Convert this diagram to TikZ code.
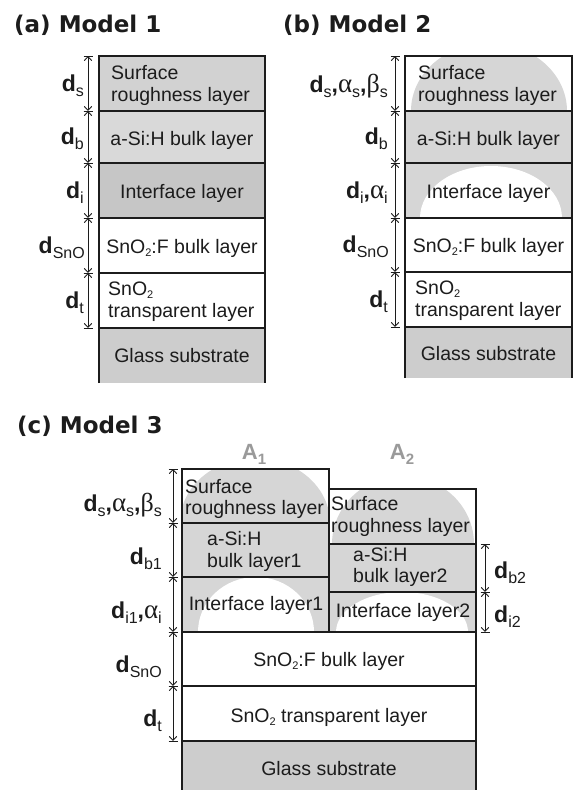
\documentclass[tikz,border=0pt]{standalone}
\usepackage{fontspec}
\setmainfont{Liberation Sans}
\newfontfamily\titlefont{DejaVu Sans}
\newfontfamily\grkfont{Liberation Serif}
\usetikzlibrary{arrows.meta}

\definecolor{ink}{HTML}{1C1C1C}
\definecolor{gSurf}{HTML}{D2D2D2}
\definecolor{gBulk}{HTML}{D9D9D9}
\definecolor{gIntf}{HTML}{C6C6C6}
\definecolor{gGlass}{HTML}{CDCDCD}
\definecolor{gDome}{HTML}{D6D6D6}
\definecolor{gLetter}{HTML}{9A9A9A}

% label pieces: bold d, greek letters, subscripts
\newcommand\lsub[1]{\raisebox{-5pt}{\fontsize{16}{16}\selectfont #1}}
\newcommand\lD[1]{{\fontsize{23}{23}\selectfont\bfseries d}\lsub{#1}}
\newcommand\lAl[1]{{\grkfont\fontsize{27}{27}\selectfont α}\lsub{#1}}
\newcommand\lBe[1]{{\grkfont\fontsize{26}{26}\selectfont β}\lsub{#1}}
\newcommand\lCo{{\fontsize{23}{23}\selectfont\bfseries ,}}
\newcommand\stwo{\raisebox{-3pt}{\fontsize{11}{11}\selectfont 2}}

% dimension arrow between two levels, with end ticks
\newcommand\dimarrow[4]{%
  \coordinate (#1t) at (#2,#3);
  \coordinate (#1b) at (#2,#4);
  \draw[dimline] (#1t) -- (#1b);
  \draw[dimtick] ([xshift=-4.5pt]#1t) -- ([xshift=4.5pt]#1t);
  \draw[dimtick] ([xshift=-4.5pt]#1b) -- ([xshift=4.5pt]#1b);
}

\tikzset{
  outline/.style={draw=ink, line width=1.7pt},
  layerline/.style={draw=ink, line width=1.4pt},
  dimline/.style={draw=ink, line width=0.9pt,
    {Straight Barb[length=4pt,width=7.5pt]}-{Straight Barb[length=4pt,width=7.5pt]}},
  dimtick/.style={draw=ink, line width=0.9pt},
  layertext/.style={inner sep=0pt, text=ink, font=\fontsize{19.5}{21.5}\selectfont, align=left},
  dimlabel/.style={inner sep=0pt, text=ink},
  title/.style={inner sep=0pt, text=ink, font=\titlefont\bfseries\fontsize{23}{23}\selectfont, anchor=base west},
  colname/.style={inner sep=0pt, text=gLetter, font=\bfseries\fontsize{22}{22}\selectfont},
}

\begin{document}
\begin{tikzpicture}[x=1pt, y=-1pt]
\useasboundingbox[fill=white] (0,0) rectangle (575,790);

% ---------------- (a) Model 1 ----------------
\node[title] (ta) at (14,32) {(a) Model 1};
\fill[gSurf]  (99,56)  rectangle (265,111);
\fill[gBulk]  (99,111) rectangle (265,163);
\fill[gIntf]  (99,163) rectangle (265,218);
\fill[gGlass] (99,328) rectangle (265,383);
\foreach \yy in {111,163,218,273,328} \draw[layerline] (99,\yy) -- (265,\yy);
\draw[outline] (99,383) -- (99,56) -- (265,56) -- (265,383);

\node[layertext, anchor=west] (a1) at (111,85.5) {Surface\\roughness layer};
\node[layertext, anchor=base] (a2) at (182,145) {a-Si:H bulk layer};
\node[layertext, anchor=base] (a3) at (182,198) {Interface layer};
\node[layertext, anchor=base] (a4) at (182,253) {SnO\stwo:F bulk layer};
\node[layertext, anchor=west] (a5) at (108,301.5) {SnO\stwo\\transparent layer};
\node[layertext, anchor=base] (a6) at (182,362) {Glass substrate};

\dimarrow{ad1}{88}{56}{111}
\dimarrow{ad2}{88}{111}{163}
\dimarrow{ad3}{88}{163}{218}
\dimarrow{ad4}{88}{218}{273}
\dimarrow{ad5}{88}{273}{328}
\node[dimlabel, anchor=east] (al1) at (84,86) {\lD{s}};
\node[dimlabel, anchor=east] (al2) at (84,139) {\lD{b}};
\node[dimlabel, anchor=east] (al3) at (84,193) {\lD{i}};
\node[dimlabel, anchor=east] (al4) at (85,248) {\lD{SnO}};
\node[dimlabel, anchor=east] (al5) at (84,303) {\lD{t}};

% ---------------- (b) Model 2 ----------------
\node[title] (tb) at (283,32) {(b) Model 2};
\begin{scope}
  \clip (405,56) rectangle (572,111);
  \fill[gDome] (489,111) ellipse [x radius=78pt, y radius=68pt];
\end{scope}
\fill[gDome] (405,111) rectangle (572,163);
\fill[gDome] (405,163) rectangle (572,218);
\begin{scope}
  \clip (405,163) rectangle (572,218);
  \fill[white] (491,218) ellipse [x radius=71pt, y radius=52pt];
\end{scope}
\fill[gGlass] (405,327) rectangle (572,378);
\foreach \yy in {111,163,218,272,327} \draw[layerline] (405,\yy) -- (572,\yy);
\draw[outline] (405,378) -- (405,56) -- (572,56) -- (572,378);

\node[layertext, anchor=west] (b1) at (418,85.5) {Surface\\roughness layer};
\node[layertext, anchor=base] (b2) at (488.5,145) {a-Si:H bulk layer};
\node[layertext, anchor=base] (b3) at (488.5,198) {Interface layer};
\node[layertext, anchor=base] (b4) at (488.5,252) {SnO\stwo:F bulk layer};
\node[layertext, anchor=west] (b5) at (415,300.5) {SnO\stwo\\transparent layer};
\node[layertext, anchor=base] (b6) at (488.5,360) {Glass substrate};

\dimarrow{bd1}{395}{56}{111}
\dimarrow{bd2}{395}{111}{163}
\dimarrow{bd3}{395}{163}{218}
\dimarrow{bd4}{395}{218}{272}
\dimarrow{bd5}{395}{272}{327}
\node[dimlabel, anchor=east] (bl1) at (388,86) {\lD{s}\lCo\lAl{s}\lCo\lBe{s}};
\node[dimlabel, anchor=east] (bl2) at (388,139) {\lD{b}};
\node[dimlabel, anchor=east] (bl3) at (388,193) {\lD{i}\lCo\lAl{i}};
\node[dimlabel, anchor=east] (bl4) at (389,247) {\lD{SnO}};
\node[dimlabel, anchor=east] (bl5) at (388,302) {\lD{t}};

% ---------------- (c) Model 3 ----------------
\node[title] (tc) at (17,433) {(c) Model 3};
\node[colname] (A1) at (254,454) {A\lsub{\fontsize{15}{15}\selectfont 1}};
\node[colname] (A2) at (402,454) {A\lsub{\fontsize{15}{15}\selectfont 2}};

% column A1
\begin{scope}
  \clip (182,469) rectangle (329,523);
  \fill[gDome] (255,523) ellipse [x radius=75pt, y radius=65pt];
\end{scope}
\fill[gDome] (182,523) rectangle (329,632);
\begin{scope}
  \clip (182,577) rectangle (329,632);
  \fill[white] (256,632) ellipse [x radius=58pt, y radius=55pt];
\end{scope}
% column A2
\begin{scope}
  \clip (329,489) rectangle (476,544);
  \fill[gDome] (403,544) ellipse [x radius=71pt, y radius=68pt];
\end{scope}
\fill[gDome] (329,544) rectangle (476,632);
\begin{scope}
  \clip (329,592) rectangle (476,632);
  \fill[white] (402,632) ellipse [x radius=66pt, y radius=40pt];
\end{scope}
% common layers
\fill[gGlass] (182,741) rectangle (476,790);

\draw[layerline] (182,523) -- (329,523);
\draw[layerline] (182,577) -- (329,577);
\draw[layerline] (329,544) -- (476,544);
\draw[layerline] (329,592) -- (476,592);
\draw[layerline] (182,632) -- (476,632);
\draw[layerline] (182,686) -- (476,686);
\draw[layerline] (182,741) -- (476,741);
\draw[outline] (182,790) -- (182,469) -- (329,469) -- (329,632);
\draw[outline] (329,489) -- (476,489) -- (476,790);

\node[layertext, anchor=west] (c1) at (185,499) {Surface\\roughness layer};
\node[layertext, anchor=west] (c2) at (207,551.5) {a-Si:H\\bulk layer1};
\node[layertext, anchor=base] (c3) at (256,610) {Interface layer1};
\node[layertext, anchor=west] (c4) at (331,516.5) {Surface\\roughness layer};
\node[layertext, anchor=west] (c5) at (353,567) {a-Si:H\\bulk layer2};
\node[layertext, anchor=base] (c6) at (403,617) {Interface layer2};
\node[layertext, anchor=base] (c7) at (329,666) {SnO\stwo:F bulk layer};
\node[layertext, anchor=base] (c8) at (329,722) {SnO\stwo{} transparent layer};
\node[layertext, anchor=base] (c9) at (329,775) {Glass substrate};

\dimarrow{cd1}{173}{469}{523}
\dimarrow{cd2}{173}{523}{577}
\dimarrow{cd3}{173}{577}{632}
\dimarrow{cd4}{173}{632}{686}
\dimarrow{cd5}{173}{686}{741}
\dimarrow{cd6}{485}{544}{592}
\dimarrow{cd7}{485}{592}{632}
\node[dimlabel, anchor=east] (cl1) at (162,505) {\lD{s}\lCo\lAl{s}\lCo\lBe{s}};
\node[dimlabel, anchor=east] (cl2) at (162,559) {\lD{b1}};
\node[dimlabel, anchor=east] (cl3) at (162,613) {\lD{i1}\lCo\lAl{i}};
\node[dimlabel, anchor=east] (cl4) at (162,667) {\lD{SnO}};
\node[dimlabel, anchor=east] (cl5) at (162,721) {\lD{t}};
\node[dimlabel, anchor=west] (cl6) at (494,573) {\lD{b2}};
\node[dimlabel, anchor=west] (cl7) at (494,617) {\lD{i2}};
\end{tikzpicture}
\end{document}
